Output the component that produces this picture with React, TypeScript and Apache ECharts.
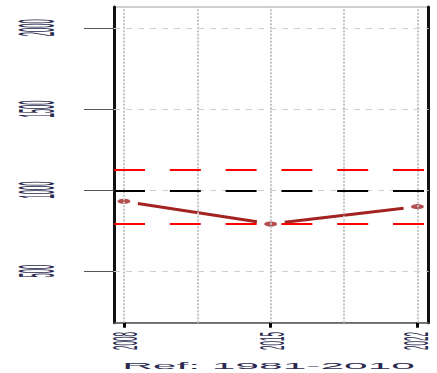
import React, { useEffect, useRef } from "react";
import * as echarts from "echarts";

const years = [2008, 2015, 2022];
const values = [934, 794, 901];
const refMean = 1000;
const refUpper = 1128;
const refLower = 798;
const yTicks = [500, 1000, 1500, 2000];
const xTicks = [2008, 2015, 2022];
const xGridLines = [2008, 2011.5, 2015, 2018.5, 2022];
const titleText = "Ref: 1981-2010";

const X_MIN = 2007.523;
const X_MAX = 2022.525;
const Y_MIN = 185.7;
const Y_MAX = 2131.3;

const LINE_COLOR = "#a32222";
const TEXT_COLOR = "#2a2a50";

export default function App() {
  const ref = useRef<HTMLDivElement>(null);

  useEffect(() => {
    if (!ref.current) return;
    const chart = echarts.init(ref.current, undefined, { renderer: "svg" });

    const segData = years.slice(0, -1).map((y, i) => [years[i], values[i], years[i + 1], values[i + 1]]);

    chart.setOption({
      animation: false,
      grid: {
        left: 114,
        right: 8.5,
        top: 7,
        bottom: 50.3,
        show: true,
        borderColor: "#a0a0a0",
        borderWidth: 1,
      },
      xAxis: {
        type: "value",
        min: X_MIN,
        max: X_MAX,
        axisLine: { show: true, onZero: false, lineStyle: { color: "#555", width: 1.5 } },
        axisTick: { show: true, customValues: xTicks, length: 5, lineStyle: { color: "#000", width: 3 } },
        axisLabel: { show: false },
        splitLine: { show: false },
      },
      yAxis: [
        {
          type: "value",
          min: Y_MIN,
          max: Y_MAX,
          axisLine: { show: true, onZero: false, lineStyle: { color: "#111", width: 3 } },
          axisTick: { show: true, customValues: yTicks, length: 30, lineStyle: { color: "#555", width: 1 } },
          axisLabel: { show: false },
          splitLine: { show: false },
        },
        {
          type: "value",
          position: "right",
          min: Y_MIN,
          max: Y_MAX,
          axisLine: { show: true, onZero: false, lineStyle: { color: "#111", width: 3 } },
          axisTick: { show: false },
          axisLabel: { show: false },
          splitLine: { show: false },
        },
      ],
      series: [
        {
          type: "line",
          data: [],
          z: 1,
          silent: true,
          markLine: {
            silent: true,
            symbol: ["none", "none"],
            label: { show: false },
            data: [
              ...xGridLines.map((x) => ({
                xAxis: x,
                lineStyle: { color: "#c4c4c4", type: [2, 1.5], width: 2 },
              })),
              ...yTicks.map((v) => ({
                yAxis: v,
                lineStyle: { color: "#cfcfcf", type: [6, 6], width: 1 },
              })),
            ],
          },
        },
        {
          type: "line",
          data: [],
          z: 2,
          silent: true,
          markLine: {
            silent: true,
            symbol: ["none", "none"],
            label: { show: false },
            data: [
              { yAxis: refMean, lineStyle: { color: "#000", type: [31, 24.8], width: 2 } },
              { yAxis: refUpper, lineStyle: { color: "#ff0000", type: [31, 24.8], width: 2 } },
              { yAxis: refLower, lineStyle: { color: "#ff0000", type: [31, 24.8], width: 2 } },
            ],
          },
        },
        {
          type: "custom",
          z: 3,
          silent: true,
          data: segData,
          encode: { x: [0, 2], y: [1, 3] },
          renderItem: (params: any, api: any) => {
            const a = api.coord([api.value(0), api.value(1)]);
            const b = api.coord([api.value(2), api.value(3)]);
            const dx = b[0] - a[0];
            const dy = b[1] - a[1];
            const L = Math.hypot(dx, dy);
            const g = 14;
            const ux = dx / L;
            const uy = dy / L;
            return {
              type: "line",
              shape: { x1: a[0] + ux * g, y1: a[1] + uy * g, x2: b[0] - ux * g, y2: b[1] - uy * g },
              style: { stroke: LINE_COLOR, lineWidth: 3 },
            };
          },
        },
        {
          type: "scatter",
          z: 4,
          silent: true,
          symbol: "circle",
          symbolSize: [13, 5],
          itemStyle: { color: LINE_COLOR },
          data: years.map((y, i) => [y, values[i]]),
        },
      ],
    });

    const toPx = (x: number, y: number) => chart.convertToPixel({ gridIndex: 0 }, [x, y]) as number[];

    const graphics: any[] = [];
    yTicks.forEach((v) => {
      const p = toPx(X_MIN, v);
      graphics.push({
        type: "text",
        x: 37,
        y: p[1] - 0.5,
        rotation: Math.PI / 2,
        scaleX: 0.64,
        scaleY: 4.2,
        style: {
          text: String(v),
          fontSize: 12,
          lineHeight: 9,
          fontFamily: "Liberation Sans",
          fill: TEXT_COLOR,
          align: "center",
          verticalAlign: "middle",
        },
      });
    });
    xTicks.forEach((v) => {
      const p = toPx(v, Y_MIN);
      graphics.push({
        type: "text",
        x: Math.min(p[0] + 1, 416),
        y: 341,
        rotation: Math.PI / 2,
        scaleX: 0.67,
        scaleY: 3.0,
        style: {
          text: String(v),
          fontSize: 12,
          lineHeight: 9,
          fontFamily: "Liberation Sans",
          fill: TEXT_COLOR,
          align: "center",
          verticalAlign: "middle",
        },
      });
    });
    graphics.push({
      type: "text",
      x: 268.5,
      y: 366,
      scaleX: 3.54,
      scaleY: 0.73,
      style: {
        text: titleText,
        fontSize: 12,
        fontFamily: "Liberation Sans",
        fill: TEXT_COLOR,
        align: "center",
        verticalAlign: "middle",
      },
    });

    chart.setOption({ graphic: graphics });

    return () => chart.dispose();
  }, []);

  return (
    <div
      ref={ref}
      style={{ position: "fixed", left: 0, top: 0, width: 437, height: 373, background: "#fff" }}
    />
  );
}
